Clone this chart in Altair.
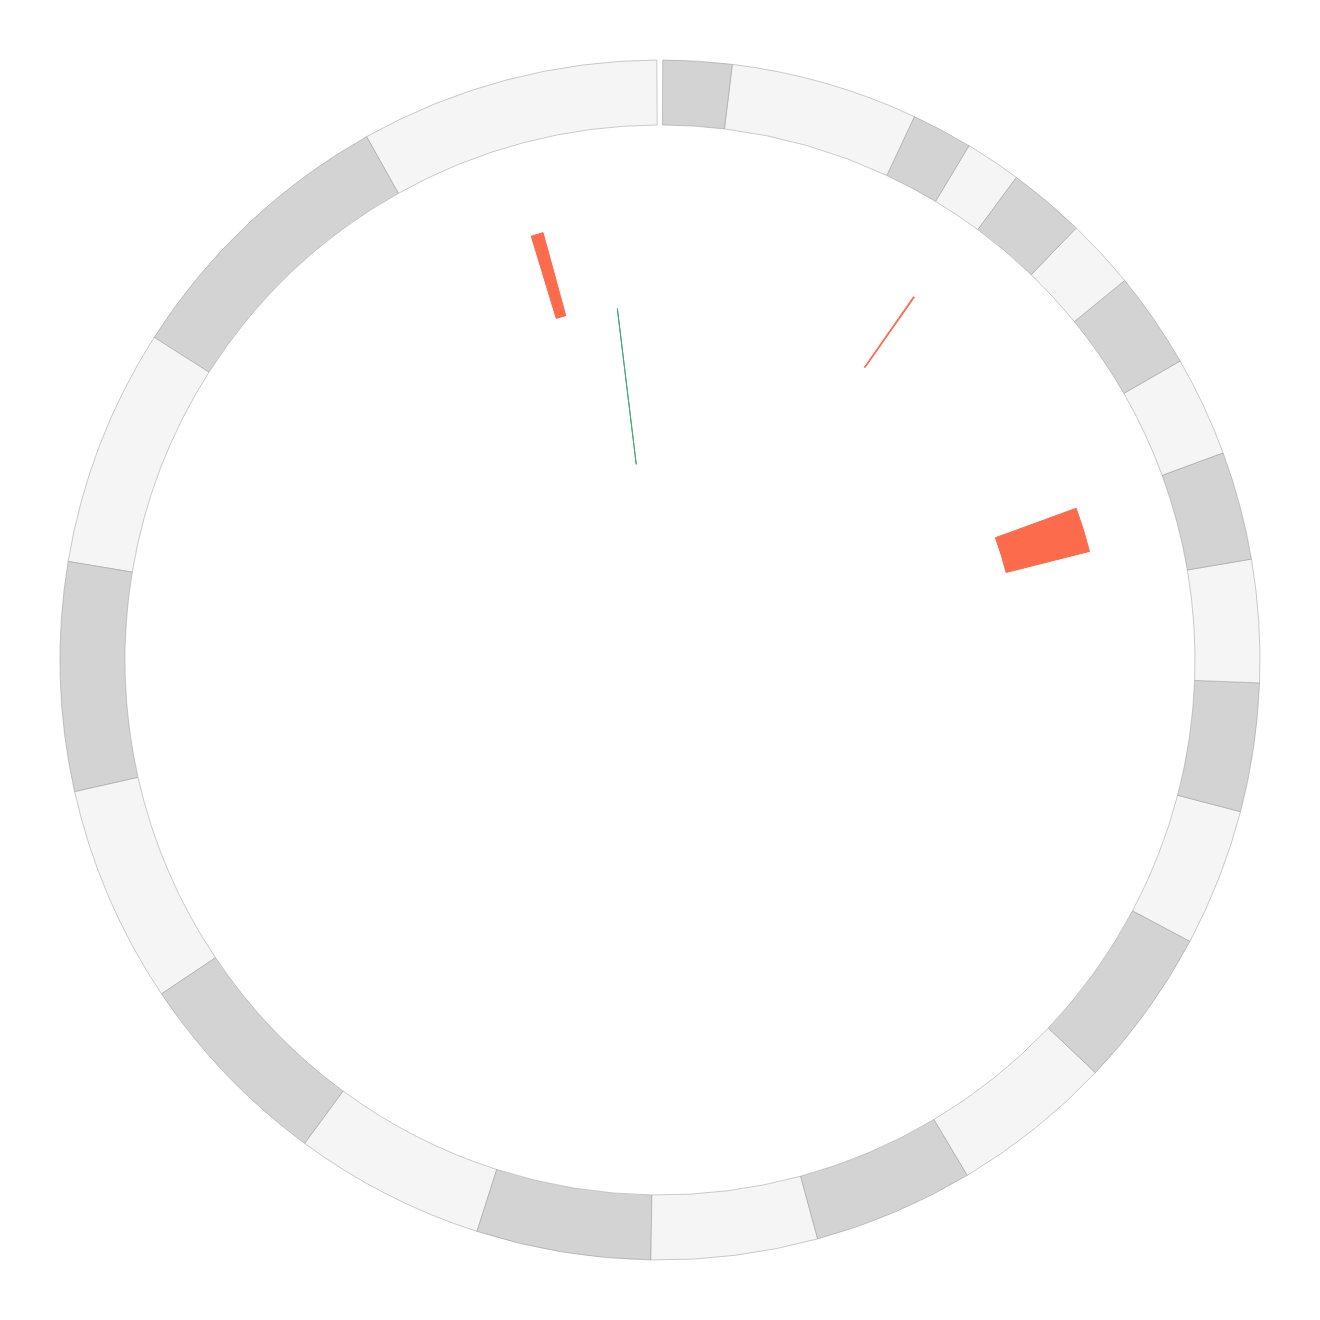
import math
import altair as alt
import pandas as pd

# Chromosomes (hg38) and their lengths in Mb
chroms = ["chr1", "chr2", "chr3", "chr4", "chr5", "chr6", "chr7", "chr8",
          "chr9", "chr10", "chr11", "chr12", "chr13", "chr14", "chr15", "chr16",
          "chr17", "chr18", "chr19", "chr20", "chr21", "chr22", "chrX", "chrY"]
lengths_mb = [248.956, 242.194, 198.296, 190.215, 181.538, 170.806, 159.346,
              145.139, 138.395, 133.797, 135.087, 133.275, 114.364, 107.044,
              101.991, 90.338, 83.257, 80.373, 58.618, 64.444, 46.710, 50.818,
              156.041, 57.227]

# Outer data track (orange) segments: chromosome, start, end (Mb)
t1_chrom = ["chr1", "chr16", "chr21"]
t1_start = [128.9, 38.7, 11.9]
t1_end = [142.6, 88.9, 13.1]

# Inner data track (green) segments
t2_chrom = ["chr1"]
t2_start = [56.85]
t2_end = [56.95]

# ---- build tables ----
offsets = {}
acc = 0.0
rows = []
for i, (c, L) in enumerate(zip(chroms, lengths_mb)):
    offsets[c] = acc
    rows.append({"chrom": c, "g0": acc, "g1": acc + L,
                 "shade": "light" if i % 2 == 0 else "dark"})
    acc += L
total = acc
ideo = pd.DataFrame(rows)

def seg_df(cs, ss, es):
    return pd.DataFrame({"chrom": cs,
                         "g0": [offsets[c] + s for c, s in zip(cs, ss)],
                         "g1": [offsets[c] + e for c, e in zip(cs, es)]})

t1 = seg_df(t1_chrom, t1_start, t1_end)
t2 = seg_df(t2_chrom, t2_start, t2_end)

# genome runs counter-clockwise from the top, with a small gap at the top
theta_scale = alt.Scale(domain=[0, total],
                        range=[math.radians(359.7), math.radians(0.26)])

ring = alt.Chart(ideo).mark_arc(stroke="#999999", strokeWidth=0.5).encode(
    theta=alt.Theta("g0:Q", scale=theta_scale, stack=None),
    theta2="g1:Q",
    radius=alt.value(600),
    radius2=alt.value(535),
    color=alt.Color("shade:N",
                    scale=alt.Scale(domain=["light", "dark"],
                                    range=["#f5f5f5", "#d3d3d3"]),
                    legend=None),
)

track1 = alt.Chart(t1).mark_arc(color="#fc6b4b", stroke="#fc6b4b",
                                strokeWidth=1).encode(
    theta=alt.Theta("g0:Q", scale=theta_scale, stack=None),
    theta2="g1:Q",
    radius=alt.value(443),
    radius2=alt.value(357),
)

track2 = alt.Chart(t2).mark_arc(color="#45a87e", stroke="#45a87e",
                                strokeWidth=1).encode(
    theta=alt.Theta("g0:Q", scale=theta_scale, stack=None),
    theta2="g1:Q",
    radius=alt.value(354),
    radius2=alt.value(197),
)

chart = alt.layer(ring, track1, track2).properties(
    width=1320, height=1320,
    autosize=alt.AutoSizeParams(type="none"),
    padding=0,
).configure_view(stroke=None)

chart.save("out.html", embed_options={"renderer": "svg", "actions": False})
